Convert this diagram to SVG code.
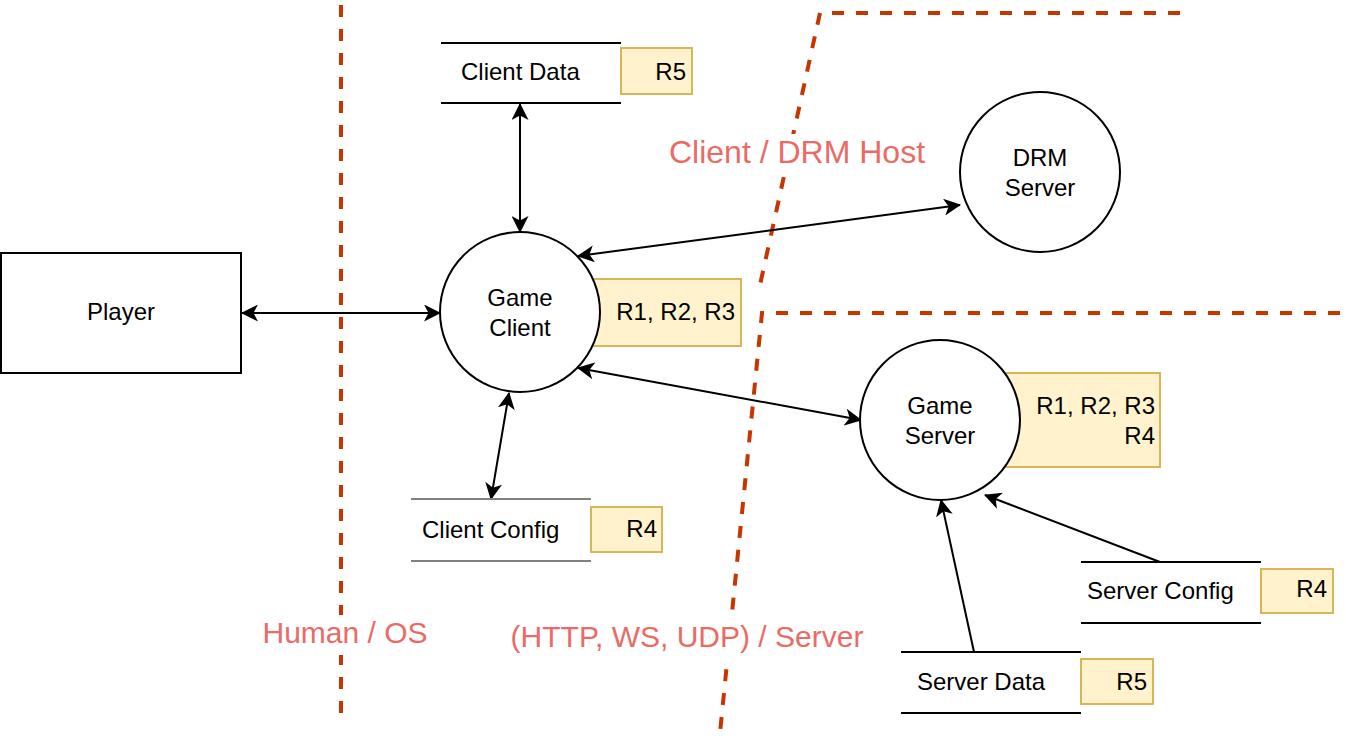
<svg xmlns="http://www.w3.org/2000/svg" width="1346" height="736" viewBox="0 0 1346 736">
<style>
text{font-family:"Liberation Sans",Arial,sans-serif;fill:#000}
.t{font-size:24px}
.mid{text-anchor:middle}
.end{text-anchor:end}
.lbl{font-size:32px;fill:#EA6B66;text-anchor:middle}
.lbl2{font-size:30px}
.node{fill:#fff;stroke:#000;stroke-width:2}
.req{fill:#FFF2CC;stroke:#D6B656;stroke-width:2}
.ds{stroke:#000;stroke-width:2;fill:none}
.dsg{stroke:#808080;stroke-width:2;fill:none}
.bound{fill:none;stroke:#C73500;stroke-width:4;stroke-dasharray:12 12}
.edge{fill:none;stroke:#000;stroke-width:2}
</style>
<defs>
<marker id="arr" viewBox="0 0 17 17" refX="16" refY="8.5" markerWidth="17" markerHeight="17" markerUnits="userSpaceOnUse" orient="auto-start-reverse">
<path d="M0,0 L17,8.5 L0,17 L4.5,8.5 Z" fill="#000"/>
</marker>
</defs>
<rect width="1346" height="736" fill="#fff"/>
<g id="boundaries">
<line class="bound" x1="341" y1="5" x2="341" y2="713"/>
<polyline class="bound" points="1180,13 820,13 760,285"/>
<polyline class="bound" points="1340,313 762,313 720,733"/>
</g>
<g id="boundary-labels">
<rect x="665" y="134" width="264" height="40" fill="#fff"/>
<text class="lbl" x="797" y="163">Client / DRM Host</text>
<rect x="260" y="615" width="170" height="40" fill="#fff"/>
<text class="lbl lbl2" x="345" y="643">Human / OS</text>
<rect x="506" y="617" width="362" height="42" fill="#fff"/>
<text class="lbl lbl2" x="687" y="647">(HTTP, WS, UDP) / Server</text>
</g>
<g id="connectors">
<line class="edge" x1="242" y1="313" x2="440" y2="313" marker-start="url(#arr)" marker-end="url(#arr)"/>
<line class="edge" x1="520" y1="104" x2="520" y2="232" marker-start="url(#arr)" marker-end="url(#arr)"/>
<line class="edge" x1="578" y1="256" x2="960" y2="205" marker-start="url(#arr)" marker-end="url(#arr)"/>
<line class="edge" x1="578" y1="368" x2="861" y2="420" marker-start="url(#arr)" marker-end="url(#arr)"/>
<line class="edge" x1="509" y1="393" x2="491" y2="499" marker-start="url(#arr)" marker-end="url(#arr)"/>
<line class="edge" x1="974" y1="652" x2="941" y2="500" marker-end="url(#arr)"/>
<line class="edge" x1="1160" y1="562" x2="985" y2="495" marker-end="url(#arr)"/>
</g>
<g id="player">
<rect class="node" x="1" y="253" width="240" height="120"/>
<text class="t mid" x="121" y="320">Player</text>
</g>
<g id="client-data">
<line class="ds" x1="441" y1="43" x2="621" y2="43"/>
<line class="ds" x1="441" y1="103" x2="621" y2="103"/>
<text class="t" x="461" y="80">Client Data</text>
<rect class="req" x="621" y="48" width="71" height="46"/>
<text class="t end" x="686" y="80">R5</text>
</g>
<g id="game-client">
<rect class="req" x="580" y="279" width="161" height="67"/>
<circle class="node" cx="520" cy="312" r="80"/>
<text class="t mid" x="520" y="306">Game</text>
<text class="t mid" x="520" y="336">Client</text>
<text class="t end" x="735" y="320">R1, R2, R3</text>
</g>
<g id="drm-server">
<circle class="node" cx="1040" cy="172" r="80"/>
<text class="t mid" x="1040" y="166">DRM</text>
<text class="t mid" x="1040" y="196">Server</text>
</g>
<g id="client-config">
<line class="dsg" x1="411" y1="499" x2="591" y2="499"/>
<line class="dsg" x1="411" y1="561" x2="591" y2="561"/>
<text class="t" x="422" y="538">Client Config</text>
<rect class="req" x="591" y="507" width="71" height="45"/>
<text class="t end" x="657" y="537">R4</text>
</g>
<g id="game-server">
<rect class="req" x="995" y="373" width="165" height="94"/>
<circle class="node" cx="940" cy="420" r="80"/>
<text class="t mid" x="940" y="414">Game</text>
<text class="t mid" x="940" y="444">Server</text>
<text class="t end" x="1155" y="414">R1, R2, R3</text>
<text class="t end" x="1155" y="444">R4</text>
</g>
<g id="server-config">
<line class="ds" x1="1081" y1="562" x2="1261" y2="562"/>
<line class="ds" x1="1081" y1="623" x2="1261" y2="623"/>
<text class="t" x="1087" y="599">Server Config</text>
<rect class="req" x="1261" y="569" width="72" height="44"/>
<text class="t end" x="1327" y="597">R4</text>
</g>
<g id="server-data">
<line class="ds" x1="901" y1="652" x2="1081" y2="652"/>
<line class="ds" x1="901" y1="713" x2="1081" y2="713"/>
<text class="t" x="917" y="690">Server Data</text>
<rect class="req" x="1081" y="659" width="72" height="45"/>
<text class="t end" x="1147" y="690">R5</text>
</g>
</svg>
